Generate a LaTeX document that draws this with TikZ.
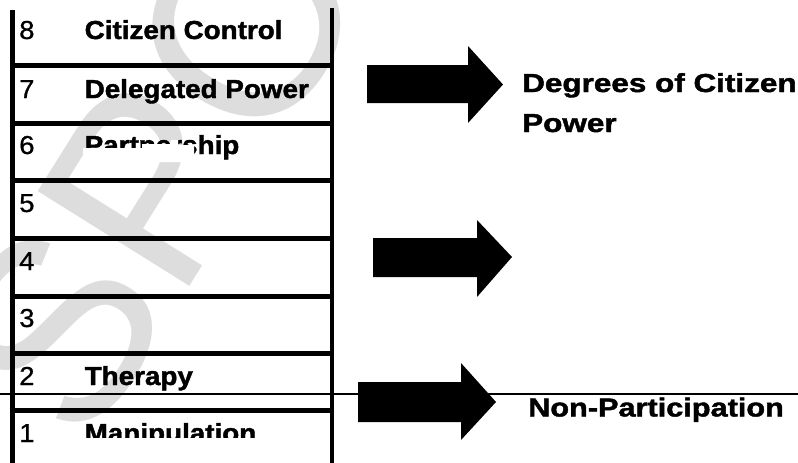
\documentclass[tikz,border=0pt]{standalone}
\usepackage{fontspec}
\usepackage{graphicx}
\setmainfont{Liberation Sans}
\newfontfamily\lblfont[FakeBold=1.5]{Liberation Sans Bold}
\newfontfamily\numfont[FakeBold=0.7]{Liberation Sans}
\definecolor{wm}{RGB}{221,221,221}
\begin{document}
\begin{tikzpicture}[x=1pt,y=-1pt,
  rail/.style={line width=4.8pt},
  rung/.style={line width=5pt},
  numtxt/.style={anchor=base west, inner sep=0pt, font=\fontsize{26}{30}\numfont},
  lbl/.style={anchor=base west, inner sep=0pt, font=\fontsize{26}{30}\lblfont},
  blockarrow/.style={fill=black, draw=none},
  occluder/.style={fill=white, draw=none}]
\useasboundingbox (0,0) rectangle (798,463);
% watermark
\node[text=wm, rotate=58, anchor=base west, inner sep=0pt, font=\fontsize{260}{260}\selectfont] (wmk) at (86,452) {SPO};
% rails
\coordinate (lt) at (12.5,10); \coordinate (lb) at (12.5,463);
\coordinate (rt) at (332,8);  \coordinate (rb) at (332,463);
\draw[rail] (lt) -- (lb);
\draw[rail] (rt) -- (rb);
% rungs
\foreach \y [count=\i] in {65.5,123.5,180.5,238.5,296,353.5,410.5}{
  \coordinate (rl\i) at (12.5,\y); \coordinate (rr\i) at (332,\y);
  \draw[rung] (rl\i) -- (rr\i);
}
% numbers
\foreach \n/\y in {8/39,7/98,6/154,5/212,4/270,3/327,2/385,1/442}{
  \node[numtxt] (n\n) at (19,\y) {\scalebox{1.06}[1]{\n}};
}
% labels
\node[lbl] (l8) at (84.5,39) {\scalebox{1.07}[1]{Citizen Control}};
\node[lbl] (l7) at (84.5,98) {\scalebox{1.07}[1]{Delegated Power}};
\node[lbl] (l6) at (84.5,154) {\scalebox{1.07}[1]{Partnership}};
\node[lbl] (l2) at (84.5,385) {\scalebox{1.07}[1]{Therapy}};
\node[lbl] (l1) at (84.5,442) {\scalebox{1.07}[1]{Manipulation}};
% white occlusions
\fill[occluder] (83,148) -- (142,148) -- (142,144) -- (170,144) -- (171,140) -- (178,140) -- (178,145) -- (194,145) -- (194,162) -- (83,162) -- cycle;
\fill[occluder] (80,438) rectangle (300,452);
% arrows
\fill[blockarrow] (367,65) -- (468,65) -- (468,46) -- (503,84.5) -- (468,123) -- (468,103) -- (367,103) -- cycle;
\fill[blockarrow] (373,238) -- (477,238) -- (477,220) -- (512,257) -- (477,297) -- (477,277) -- (373,277) -- cycle;
\fill[blockarrow] (358,382) -- (461,382) -- (461,363) -- (496,402) -- (461,440) -- (461,422) -- (358,422) -- cycle;
% right labels
\node[lbl] (deg1) at (522,92) {\scalebox{1.21}[1]{Degrees of Citizen}};
\node[lbl] (deg2) at (522,132) {\scalebox{1.21}[1]{Power}};
\node[lbl] (nonp) at (528,416.5) {\scalebox{1.18}[1]{Non-Participation}};
% thin line
\coordinate (hl) at (0,394); \coordinate (hr) at (798,394);
\draw[line width=1.8pt] (hl) -- (hr);
\end{tikzpicture}
\end{document}
